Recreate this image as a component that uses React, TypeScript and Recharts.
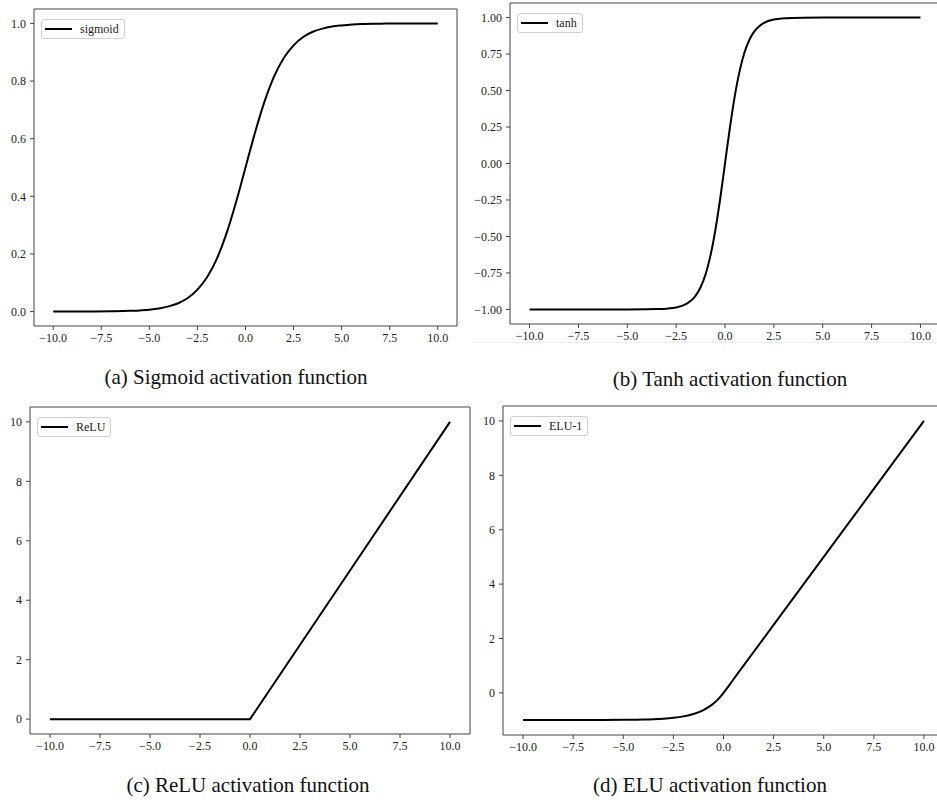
import React from 'react';
import { LineChart, Line, XAxis, YAxis, ReferenceArea, Legend } from 'recharts';

// ---------- data ----------
const xTicks = [-10, -7.5, -5, -2.5, 0, 2.5, 5, 7.5, 10];

const sigmoidX = [-10, -9, -8, -7, -6, -5, -4.5, -4, -3.5, -3, -2.5, -2, -1.5, -1, -0.5, 0, 0.5, 1, 1.5, 2, 2.5, 3, 3.5, 4, 4.5, 5, 6, 7, 8, 9, 10];
const sigmoidY = [0.00005, 0.0001, 0.0003, 0.0009, 0.0025, 0.0067, 0.011, 0.018, 0.029, 0.047, 0.076, 0.119, 0.182, 0.269, 0.378, 0.5, 0.622, 0.731, 0.818, 0.881, 0.924, 0.953, 0.971, 0.982, 0.989, 0.993, 0.998, 0.999, 1.0, 1.0, 1.0];
const sigmoidTicks = [0, 0.2, 0.4, 0.6, 0.8, 1.0];

const tanhX = [-10, -8, -6, -5, -4, -3.5, -3, -2.5, -2, -1.75, -1.5, -1.25, -1, -0.75, -0.5, -0.25, 0, 0.25, 0.5, 0.75, 1, 1.25, 1.5, 1.75, 2, 2.5, 3, 3.5, 4, 5, 6, 8, 10];
const tanhY = [-1, -1, -1, -0.9999, -0.9993, -0.998, -0.995, -0.987, -0.964, -0.941, -0.905, -0.848, -0.762, -0.635, -0.462, -0.245, 0, 0.245, 0.462, 0.635, 0.762, 0.848, 0.905, 0.941, 0.964, 0.987, 0.995, 0.998, 0.9993, 0.9999, 1, 1, 1];
const tanhTicks = [-1, -0.75, -0.5, -0.25, 0, 0.25, 0.5, 0.75, 1];

const reluX = [-10, -5, 0, 5, 10];
const reluY = [0, 0, 0, 5, 10];
const reluTicks = [0, 2, 4, 6, 8, 10];

const eluX = [-10, -8, -6, -5, -4, -3.5, -3, -2.5, -2, -1.5, -1, -0.75, -0.5, -0.25, 0, 0.5, 1, 2.5, 5, 7.5, 10];
const eluY = [-1, -0.9997, -0.9975, -0.993, -0.982, -0.97, -0.95, -0.918, -0.865, -0.777, -0.632, -0.528, -0.393, -0.221, 0, 0.5, 1, 2.5, 5, 7.5, 10];
const eluTicks = [0, 2, 4, 6, 8, 10];

const captions = [
  '(a) Sigmoid activation function',
  '(b) Tanh activation function',
  '(c) ReLU activation function',
  '(d) ELU activation function',
];

const toRows = (xs: number[], ys: number[]) => xs.map((x, i) => ({ x, y: ys[i] }));

const FONT = '"Liberation Serif", "Times New Roman", serif';
const minus = (s: string) => s.replace('-', '\u2212');
const fmt = (d: number) => (v: number) => minus(v.toFixed(d));

type Frame = { x: number; y: number; w: number; h: number };

const LegendBox = ({ name }: { name: string }) => (
  <div
    style={{
      display: 'inline-flex',
      alignItems: 'center',
      border: '1px solid #d0d0d0',
      borderRadius: 3,
      background: '#fff',
      padding: '1px 5px 1px 3px',
      fontFamily: FONT,
      fontSize: 12,
      color: '#222',
      lineHeight: '16px',
      whiteSpace: 'nowrap',
    }}
  >
    <span style={{ display: 'inline-block', width: 27, height: 2, background: '#000', marginRight: 8 }} />
    <span>{name}</span>
  </div>
);

function Panel(props: {
  frame: Frame;
  yDomain: [number, number];
  yTicks: number[];
  yFmt: (v: number) => string;
  data: { x: number; y: number }[];
  name: string;
  yAxisWidth: number;
  curve: 'monotone' | 'linear';
}) {
  const { frame, yDomain, yTicks, yFmt, data, name, yAxisWidth, curve } = props;
  const W = yAxisWidth;
  const H = 30;
  const m = 2;
  const width = W + frame.w + m;
  const height = m + frame.h + H;
  const xDomain: [number, number] = [-11, 11];
  const tickStyle = { fill: '#222', fontSize: 12, fontFamily: FONT };
  return (
    <div style={{ position: 'absolute', left: frame.x - W, top: frame.y - m }}>
      <LineChart width={width} height={height} data={data} margin={{ top: m, right: m, left: 0, bottom: 0 }}>
        <XAxis
          dataKey="x"
          type="number"
          domain={xDomain}
          ticks={xTicks}
          allowDataOverflow
          height={H}
          tickSize={4}
          tickMargin={3}
          axisLine={false}
          stroke="#444"
          tick={tickStyle}
          tickFormatter={fmt(1)}
          interval={0}
        />
        <YAxis
          type="number"
          domain={yDomain}
          ticks={yTicks}
          allowDataOverflow
          width={W}
          tickSize={4}
          tickMargin={4}
          axisLine={false}
          stroke="#444"
          tick={tickStyle}
          tickFormatter={yFmt}
          interval={0}
        />
        <ReferenceArea
          x1={xDomain[0]}
          x2={xDomain[1]}
          y1={yDomain[0]}
          y2={yDomain[1]}
          fill="none"
          fillOpacity={0}
          stroke="#444"
          strokeWidth={1}
          ifOverflow="visible"
        />
        <Legend
          layout="vertical"
          verticalAlign="middle"
          align="center"
          content={() => <LegendBox name={name} />}
          wrapperStyle={{ left: W + 7, top: m + 7, width: 'auto', height: 'auto' }}
        />
        <Line
          dataKey="y"
          name={name}
          type={curve}
          stroke="#000"
          strokeWidth={2}
          dot={false}
          activeDot={false}
          isAnimationActive={false}
        />
      </LineChart>
    </div>
  );
}

const Caption = ({ text, cx, baseline }: { text: string; cx: number; baseline: number }) => (
  <div
    style={{
      position: 'absolute',
      left: cx - 200,
      width: 400,
      top: baseline - 17.6,
      height: 21,
      lineHeight: '21px',
      fontSize: 21,
      fontFamily: FONT,
      color: '#111',
      textAlign: 'center',
      whiteSpace: 'nowrap',
    }}
  >
    {text}
  </div>
);

export default function App() {
  return (
    <div
      style={{
        position: 'absolute',
        left: 0,
        top: 0,
        width: 937,
        height: 807,
        overflow: 'hidden',
        background: '#fff',
      }}
    >
      <Panel
        frame={{ x: 34, y: 9, w: 423, h: 317 }}
        yDomain={[-0.05, 1.05]}
        yTicks={sigmoidTicks}
        yFmt={fmt(1)}
        data={toRows(sigmoidX, sigmoidY)}
        name="sigmoid"
        yAxisWidth={34}
        curve="monotone"
      />
      <Panel
        frame={{ x: 510, y: 3, w: 430, h: 321 }}
        yDomain={[-1.1, 1.1]}
        yTicks={tanhTicks}
        yFmt={fmt(2)}
        data={toRows(tanhX, tanhY)}
        name="tanh"
        yAxisWidth={50}
        curve="monotone"
      />
      <div style={{ position: 'absolute', left: 472, top: 342, width: 465, height: 1, background: '#eeeeee' }} />
      <Panel
        frame={{ x: 30, y: 407, w: 440, h: 327 }}
        yDomain={[-0.5, 10.5]}
        yTicks={reluTicks}
        yFmt={fmt(0)}
        data={toRows(reluX, reluY)}
        name="ReLU"
        yAxisWidth={30}
        curve="linear"
      />
      <Panel
        frame={{ x: 503, y: 406, w: 441, h: 329 }}
        yDomain={[-1.55, 10.55]}
        yTicks={eluTicks}
        yFmt={fmt(0)}
        data={toRows(eluX, eluY)}
        name="ELU-1"
        yAxisWidth={36}
        curve="monotone"
      />
      <Caption text={captions[0]} cx={236} baseline={385} />
      <Caption text={captions[1]} cx={730} baseline={387} />
      <Caption text={captions[2]} cx={248} baseline={793} />
      <Caption text={captions[3]} cx={710} baseline={793} />
    </div>
  );
}
